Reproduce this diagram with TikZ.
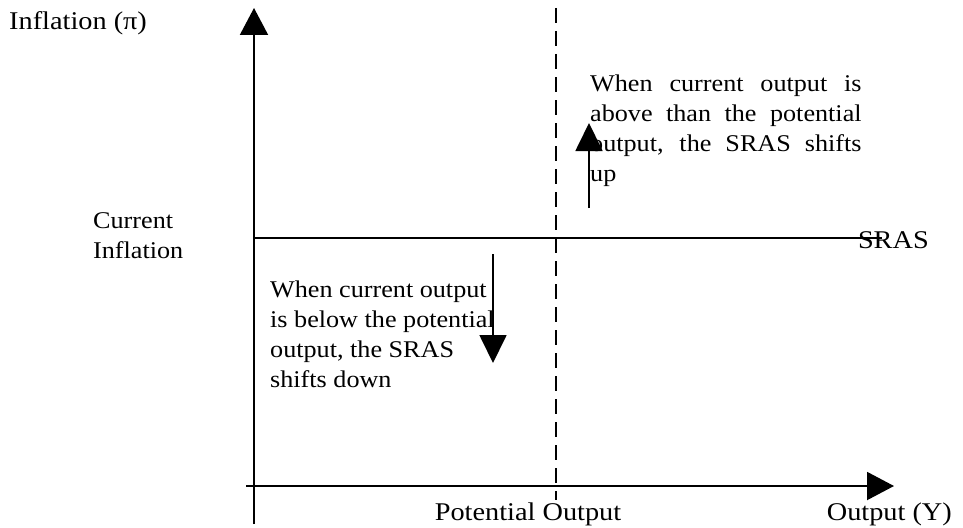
\documentclass[tikz,border=0pt]{standalone}
\usepackage{fontspec}
\usepackage{graphicx}
\setmainfont{Liberation Serif}
\usetikzlibrary{arrows.meta}
\newcommand{\wtxt}[1]{\scalebox{1.11}[1]{#1}}
\newcommand{\btxt}[1]{\scalebox{1.09}[1]{#1}}
\begin{document}
\begin{tikzpicture}[x=1pt,y=-1pt,
  lbl/.style={font=\fontsize{24}{30}\selectfont, inner sep=0pt},
  axlbl/.style={font=\fontsize{25.5}{30}\selectfont, inner sep=0pt},
  axis/.style={line width=2pt},
  bigtip/.style={-{Triangle[length=27pt,width=28pt]}},
  shifttip/.style={-{Triangle[length=28pt,width=27pt]}, line width=1.8pt},
  dashline/.style={line width=1.6pt, dash pattern=on 15pt off 8pt}]
\useasboundingbox (0,0) rectangle (963,527);
% axes
\coordinate (ybot) at (254,524);
\coordinate (ytop) at (254,8);
\coordinate (xleft) at (246,486);
\coordinate (xright) at (894,486);
\draw[axis,bigtip] (ybot) -- (ytop);
\draw[axis,bigtip] (xleft) -- (xright);
% potential output dashed line
\coordinate (ptop) at (556,8);
\coordinate (pbot) at (556,500);
\draw[dashline] (ptop) -- (pbot);
% SRAS
\coordinate (sleft) at (254,238);
\coordinate (sright) at (882,238);
\draw[line width=1.5pt] (sleft) -- (sright);
\node[axlbl, anchor=east] (sras) at (929,240) {\wtxt{SRAS}};
% labels
\node[axlbl, anchor=west] (ylab) at (9,23) {\wtxt{Inflation (π)}};
\node[lbl, anchor=west] (cur) at (93,237) {\btxt{\begin{tabular}{@{}l@{}}Current\\Inflation\end{tabular}}};
\node[axlbl] (potlab) at (528,514) {\wtxt{Potential Output}};
\node[axlbl, anchor=east] (xlab) at (952,514) {\wtxt{Output (Y)}};
% upper text
\node[lbl, anchor=north west] (uptext) at (590,75)
  {\btxt{\parbox[t]{249pt}{\fontsize{24}{30}\selectfont
  When current output is above than the potential output, the SRAS shifts up}}};
% lower text
\node[lbl, anchor=north west] (downtext) at (270,276)
  {\btxt{\begin{tabular}[t]{@{}l@{}}When current output\\is below the potential\\output, the SRAS\\shifts down\end{tabular}}};
% shift arrows
\coordinate (ua) at (589,208);
\coordinate (ub) at (589,123);
\draw[shifttip] (ua) -- (ub);
\coordinate (da) at (493,254);
\coordinate (db) at (493,363);
\draw[shifttip] (da) -- (db);
\end{tikzpicture}
\end{document}
